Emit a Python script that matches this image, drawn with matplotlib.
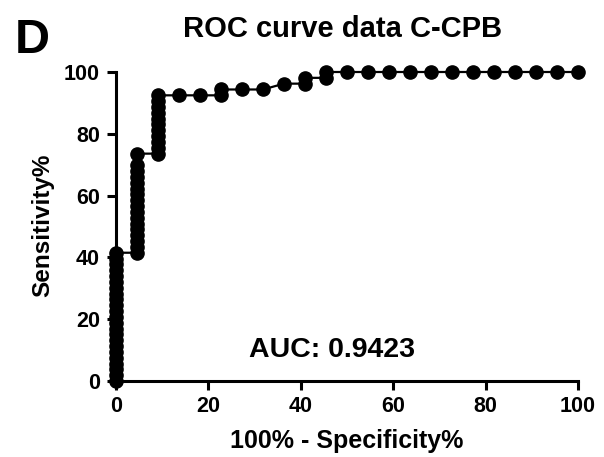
import matplotlib
matplotlib.use("Agg")
import matplotlib.pyplot as plt

# ROC data: 100% - Specificity% (x) and Sensitivity% (y)
fpr_pct = [0, 0, 0, 0, 0, 0, 0, 0, 0, 0, 0, 0, 0, 0, 0, 0, 0, 0, 0, 0, 0, 0, 0,
           4.55, 4.55, 4.55, 4.55, 4.55, 4.55, 4.55, 4.55, 4.55, 4.55, 4.55, 4.55,
           4.55, 4.55, 4.55, 4.55, 4.55,
           9.09, 9.09, 9.09, 9.09, 9.09, 9.09, 9.09, 9.09, 9.09, 9.09, 9.09,
           13.64, 18.18, 22.73, 22.73, 27.27, 31.82, 36.36, 40.91, 40.91,
           45.45, 45.45, 50.00, 54.55, 59.09, 63.64, 68.18, 72.73, 77.27,
           81.82, 86.36, 90.91, 95.45, 100.0]
sens_pct = [0, 1.89, 3.77, 5.66, 7.55, 9.43, 11.32, 13.21, 15.09, 16.98, 18.87,
            20.75, 22.64, 24.53, 26.42, 28.30, 30.19, 32.08, 33.96, 35.85, 37.74,
            39.62, 41.51,
            41.51, 43.40, 45.28, 47.17, 49.06, 50.94, 52.83, 54.72, 56.60, 58.49,
            60.38, 62.26, 64.15, 66.04, 67.92, 69.81, 73.58,
            73.58, 75.47, 77.36, 79.25, 81.13, 83.02, 84.91, 86.79, 88.68, 90.57,
            92.45,
            92.45, 92.45, 92.45, 94.34, 94.34, 94.34, 96.23, 96.23, 98.11,
            98.11, 100, 100, 100, 100, 100, 100, 100, 100,
            100, 100, 100, 100, 100]

tick_values = [0, 20, 40, 60, 80, 100]
title = "ROC curve data C-CPB"
auc_label = "AUC: 0.9423"
panel_label = "D"
xlabel = "100% - Specificity%"
ylabel = "Sensitivity%"

plt.rcParams['font.family'] = ['Liberation Sans', 'DejaVu Sans']
plt.rcParams['font.weight'] = 'bold'

W, H = 604, 457
fig = plt.figure(figsize=(W / 100, H / 100), dpi=100)
ax = fig.add_axes([116 / W, 1 - 381 / H, 462 / W, 309 / H])

ax.plot(fpr_pct, sens_pct, color='black', lw=1.6, marker='o', markersize=9.5,
        markerfacecolor='black', markeredgecolor='black', clip_on=False, zorder=5)

ax.set_xlim(0, 100)
ax.set_ylim(0, 100)
ax.set_xticks(tick_values)
ax.set_yticks(tick_values)
ax.set_xticklabels([str(t) for t in tick_values], fontsize=15.5, fontweight='bold')
ax.set_yticklabels([str(t) for t in tick_values], fontsize=15.5, fontweight='bold')

for s in ['top', 'right']:
    ax.spines[s].set_visible(False)
for s in ['left', 'bottom']:
    ax.spines[s].set_linewidth(2.2)
ax.tick_params(axis='both', direction='out', length=6.5, width=2.2, color='black')
ax.tick_params(axis='x', pad=4)
ax.tick_params(axis='y', pad=5)

ax.text(46.8, 7.8, auc_label, ha='center', va='baseline', fontsize=20.5,
        fontweight='bold')

fig.text(342.5 / W, 1 - 37 / H, title, ha='center', va='baseline', fontsize=21,
         fontweight='bold')
fig.text(15 / W, 1 - 53 / H, panel_label, ha='left', va='baseline', fontsize=35,
         fontweight='bold')
fig.text(347 / W, 1 - 448 / H, xlabel, ha='center', va='baseline', fontsize=18,
         fontweight='bold')
fig.text(43 / W, 1 - 225 / H, ylabel, ha='center', va='center', rotation=90,
         fontsize=17.5, fontweight='bold')

fig.savefig("out.png", dpi=100)
